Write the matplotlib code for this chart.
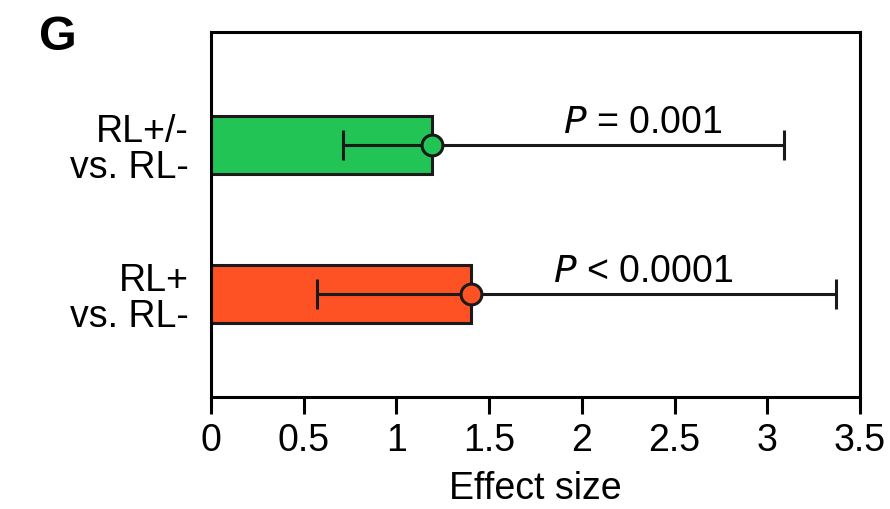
import matplotlib
matplotlib.use("Agg")
import matplotlib.pyplot as plt

plt.rcParams['font.family'] = ['Liberation Sans', 'DejaVu Sans']

categories = ["RL+\nvs. RL-", "RL+/-\nvs. RL-"]
effect = [1.40, 1.19]
ci_low = [0.57, 0.71]
ci_high = [3.37, 3.09]
pvals = ["$\\it{P}$ < 0.0001", "$\\it{P}$ = 0.001"]
colors = ["#FF5224", "#21C455"]
xticks = [0, 0.5, 1, 1.5, 2, 2.5, 3, 3.5]
xticklabels = ["0", "0.5", "1", "1.5", "2", "2.5", "3", "3.5"]

fig = plt.figure(figsize=(8.9, 5.1), dpi=100)
ax = fig.add_axes([211/890, 1-398/510, (860-211)/890, (398-33)/510])

lw = 2.2
ypos = list(range(len(categories)))
ax.barh(ypos, effect, height=0.39, color=colors, edgecolor="#1a1a1a", linewidth=lw, zorder=2)
for y, e, lo, hi, c, p in zip(ypos, effect, ci_low, ci_high, colors, pvals):
    ax.errorbar(e, y, xerr=[[e - lo], [hi - e]], fmt='none', ecolor="#1a1a1a",
                elinewidth=lw, capsize=11, capthick=lw, zorder=3)
    ax.plot(e, y, 'o', ms=15, mfc=c, mec="#1a1a1a", mew=lw, zorder=4)
    ax.text(2.33, y + 0.085, p, fontsize=27, ha='center', va='baseline')

ax.set_xlim(0, 3.5)
ax.set_ylim(-0.69, 1.758)
ax.set_xticks(xticks)
ax.set_xticklabels(xticklabels, fontsize=27)
ax.set_yticks(ypos)
ax.set_yticklabels(categories, fontsize=27, linespacing=1.0)
ax.tick_params(axis='x', direction='out', length=12, width=lw, pad=6)
ax.tick_params(axis='y', length=0, pad=16)
for s in ax.spines.values():
    s.set_linewidth(lw)
ax.set_xlabel("Effect size", fontsize=27, labelpad=9)

fig.text(58/890, 1-38/510, "G", fontsize=35, fontweight='bold', ha='center', va='center')

fig.savefig("out.png", dpi=100)
